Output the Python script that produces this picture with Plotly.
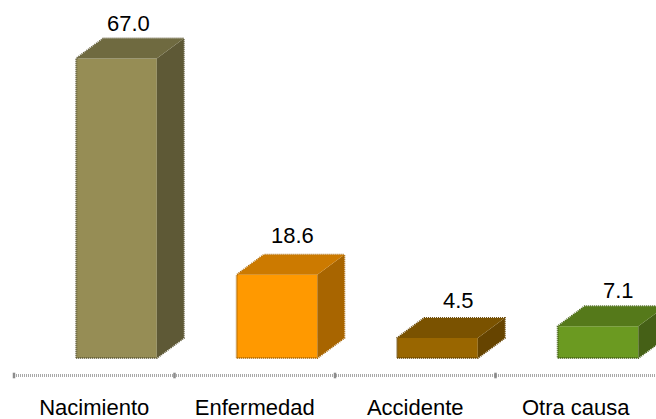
import plotly.graph_objects as go

categories = ["Nacimiento", "Enfermedad", "Accidente", "Otra causa"]
values = [67.0, 18.6, 4.5, 7.1]
labels = ["67.0", "18.6", "4.5", "7.1"]
front_colors = ["#968D55", "#FF9900", "#996600", "#6B9A21"]
top_colors = ["#6F6A40", "#CC7A00", "#7A5200", "#55791A"]
side_colors = ["#5E5936", "#A86500", "#664400", "#456016"]
label_nudge_x = [34, 37.5, 43, 42.5]
label_nudge_y = [35, 39, 37, 36]

W, H = 656, 419
PLOT_L, PLOT_R, PLOT_T, PLOT_B = 14, 655.6, 0, 381
AXIS_PX = 375.5
ZERO_PX = 358
PX_PER_UNIT = 4.47
CAT_PX = (PLOT_R - PLOT_L) / 4
BAR_OFFSET = -18 / CAT_PX
BAR_WIDTH = 80.5 / CAT_PX
DX = 27 / CAT_PX
DY = 20 / PX_PER_UNIT
Y_MIN = -(PLOT_B - ZERO_PX) / PX_PER_UNIT
Y_MAX = (ZERO_PX - PLOT_T) / PX_PER_UNIT
Y_AXIS = -(AXIS_PX - ZERO_PX) / PX_PER_UNIT

fig = go.Figure()
xs = list(range(len(categories)))

for i, v in zip(xs, values):
    l = i + BAR_OFFSET
    r = l + BAR_WIDTH
    # silhouette with a dotted edge
    fig.add_trace(go.Scatter(
        x=[l, r, r + DX, r + DX, l + DX, l, l],
        y=[0, 0, DY, v + DY, v + DY, v, 0],
        mode="lines", line=dict(color=side_colors[i], width=2, dash="1px,1px"),
        hoverinfo="skip", showlegend=False))
    # side face
    fig.add_trace(go.Scatter(
        x=[r, r + DX, r + DX, r, r], y=[0, DY, v + DY, v, 0],
        mode="lines", fill="toself", fillcolor=side_colors[i],
        line=dict(width=0), hoverinfo="skip", showlegend=False))
    # top face
    fig.add_trace(go.Scatter(
        x=[l, r, r + DX, l + DX, l], y=[v, v, v + DY, v + DY, v],
        mode="lines", fill="toself", fillcolor=top_colors[i],
        line=dict(width=0), hoverinfo="skip", showlegend=False))

fig.add_trace(go.Bar(
    x=xs, y=values, width=BAR_WIDTH, offset=BAR_OFFSET,
    marker=dict(color=front_colors, line=dict(width=0)),
    hoverinfo="skip", showlegend=False))

# Dotted axis line
fig.add_trace(go.Scatter(
    x=[-0.5, 3.5], y=[Y_AXIS, Y_AXIS], mode="lines", cliponaxis=False,
    line=dict(color="#A8A8A8", width=3, dash="1px,1px"),
    hoverinfo="skip", showlegend=False))

# Category-boundary tick marks on the axis
fig.add_trace(go.Scatter(
    x=[i - 0.5 for i in xs], y=[Y_AXIS] * len(xs),
    mode="markers", cliponaxis=False,
    marker=dict(symbol="line-ns", size=4, line=dict(color="#8C8C8C", width=2.5)),
    hoverinfo="skip", showlegend=False))

for i, v, t, nx, ny in zip(xs, values, labels, label_nudge_x, label_nudge_y):
    fig.add_annotation(
        x=i, y=v, text=t, showarrow=False, xanchor="center", yanchor="middle",
        xshift=nx, yshift=ny,
        font=dict(family="Liberation Sans", size=22, color="#000000"))

fig.update_layout(
    width=W, height=H,
    margin=dict(l=PLOT_L, r=W - PLOT_R, t=PLOT_T, b=H - PLOT_B, pad=0, autoexpand=False),
    autosize=False,
    paper_bgcolor="white", plot_bgcolor="white", barmode="overlay",
    font=dict(family="Liberation Sans", size=22, color="#000000"),
    xaxis=dict(
        range=[-0.5, 3.5], tickmode="array", tickvals=xs, ticktext=categories,
        showgrid=False, zeroline=False, ticks="outside", ticklen=7, tickcolor="rgba(0,0,0,0)",
        showline=False, automargin=False,
        tickfont=dict(family="Liberation Sans", size=22, color="#000000")),
    yaxis=dict(range=[Y_MIN, Y_MAX], visible=False, showgrid=False, zeroline=False),
)

fig.write_html("out.html", config=dict(displayModeBar=False),
               post_script="document.body.style.margin='0';document.body.style.overflow='hidden';")
